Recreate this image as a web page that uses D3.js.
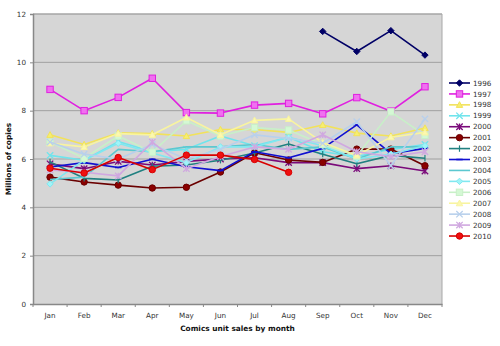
<!DOCTYPE html>
<html><head><meta charset="utf-8">
<script src="https://cdn.jsdelivr.net/npm/d3@7"></script>
<style>body{margin:0;background:#fff}svg{display:block}text{font-family:"DejaVu Sans",Verdana,sans-serif}</style>
</head><body>
<script>
const months = ["Jan","Feb","Mar","Apr","May","Jun","Jul","Aug","Sep","Oct","Nov","Dec"];
const yTicks = [0,2,4,6,8,10,12];
const years = ["1996","1997","1998","1999","2000","2001","2002","2003","2004","2005","2006","2007","2008","2009","2010"];
const s1996 = [null,null,null,null,null,null,null,null,11.28,10.45,11.31,10.3];
const s1997 = [8.88,8.0,8.55,9.34,7.92,7.9,8.23,8.3,7.87,8.54,7.98,8.99];
const s1998 = [7.0,6.6,7.08,7.05,6.95,7.22,7.22,7.1,7.41,7.07,6.95,7.28];
const s1999 = [6.15,5.95,6.72,6.3,6.4,6.95,6.55,6.9,6.3,6.1,6.4,6.6];
const s2000 = [5.8,5.6,5.9,5.75,5.9,6.0,6.05,5.85,5.85,5.6,5.72,5.5];
const s2001 = [5.25,5.05,4.92,4.8,4.83,5.46,6.26,5.96,5.86,6.41,6.41,5.72];
const s2002 = [5.88,5.2,5.13,5.7,5.75,5.95,6.25,6.62,6.2,5.8,6.15,6.03];
const s2003 = [5.67,5.85,5.65,5.99,5.68,5.52,6.3,6.05,6.44,7.41,6.22,6.44];
const s2004 = [5.15,5.25,6.4,6.3,6.5,6.5,6.6,6.4,6.5,6.0,6.5,6.5];
const s2005 = [4.97,5.95,6.65,6.25,5.85,6.5,6.5,6.9,6.55,6.0,6.2,6.55];
const s2006 = [6.7,6.03,6.95,6.28,7.58,6.95,7.3,7.2,6.6,6.12,7.95,6.98];
const s2007 = [6.65,6.5,7.05,7.0,7.72,7.0,7.6,7.66,6.68,6.15,6.9,7.1];
const s2008 = [6.7,6.2,6.0,6.6,6.0,6.4,7.0,6.85,6.65,7.54,5.72,7.66];
const s2009 = [5.55,5.45,5.3,6.7,5.6,6.1,6.5,6.4,7.0,6.3,6.1,6.3];
const s2010 = [5.62,5.42,6.06,5.56,6.16,6.16,5.98,5.45,null,null,null,null];
const seriesValues = [s1996,s1997,s1998,s1999,s2000,s2001,s2002,s2003,s2004,s2005,s2006,s2007,s2008,s2009,s2010];
const styles = [
  {c:"#000066",f:"#000066",m:"diamond"},
  {c:"#e020e0",f:"#f070f0",m:"square"},
  {c:"#f2e25a",f:"#f6ee70",m:"triangle"},
  {c:"#70e4ec",f:"#90f0f4",m:"x"},
  {c:"#7a0a7a",f:"#7a0a7a",m:"star"},
  {c:"#6a0000",f:"#8a0000",m:"circle"},
  {c:"#208080",f:"#208080",m:"plus"},
  {c:"#1010d0",f:"#1010d0",m:"dash"},
  {c:"#5cc8d0",f:"#5cc8d0",m:"none"},
  {c:"#80e8f0",f:"#a0f4f8",m:"diamond"},
  {c:"#c8f0c8",f:"#d4f8d4",m:"square"},
  {c:"#f8f4a0",f:"#fcf8b0",m:"triangle"},
  {c:"#b8d0ec",f:"#b8d0ec",m:"x"},
  {c:"#d0a8e0",f:"#d0a8e0",m:"star"},
  {c:"#d80000",f:"#ee1010",m:"circle"}
];

const W=500,H=346;
const L=33,R=442,T=14,B=304;
const svg=d3.select("body").append("svg").attr("width",W).attr("height",H);
const x=d3.scaleBand().domain(months).range([L,R]);
const y=d3.scaleLinear().domain([0,12]).range([B,T]);

svg.append("rect").attr("x",L).attr("y",T).attr("width",R-L).attr("height",B-T).attr("fill","#d6d6d6");
svg.append("g").selectAll("line").data(yTicks.filter(d=>d>0)).join("line")
  .attr("x1",L).attr("x2",R).attr("y1",d=>y(d)).attr("y2",d=>y(d))
  .attr("stroke","#a0a0a0").attr("stroke-width",1);
svg.append("path").attr("d",`M${L},${T}H${R}V${B}`).attr("fill","none").attr("stroke","#a8a8a8");

const ya=svg.append("g").attr("transform",`translate(${L},0)`)
  .call(d3.axisLeft(y).tickValues(yTicks).tickSize(3).tickPadding(4));
ya.select(".domain").attr("stroke","#888").attr("stroke-width",1.5);
ya.selectAll(".tick line").attr("stroke","#888");
ya.selectAll("text").attr("font-size",7.2).attr("fill","#333").attr("font-family","DejaVu Sans");

const xa=svg.append("g").attr("transform",`translate(0,${B})`)
  .call(d3.axisBottom(x).tickSize(0).tickPadding(9));
xa.select(".domain").attr("stroke","#888").attr("stroke-width",1.5);
xa.selectAll("text").attr("font-size",7.2).attr("fill","#333").attr("font-family","DejaVu Sans");
xa.selectAll(".bnd").data(months).join("line").attr("class","bnd")
  .attr("x1",d=>x(d)).attr("x2",d=>x(d)).attr("y1",0).attr("y2",3).attr("stroke","#888");
xa.append("line").attr("x1",R).attr("x2",R).attr("y1",0).attr("y2",3).attr("stroke","#888");

svg.append("text").attr("x",(L+R)/2).attr("y",331).attr("text-anchor","middle")
  .attr("font-size",7.4).attr("font-weight","bold").attr("fill","#111").text("Comics unit sales by month");
svg.append("text").attr("transform",`translate(11,${(T+B)/2}) rotate(-90)`).attr("text-anchor","middle")
  .attr("font-size",7.4).attr("font-weight","bold").attr("fill","#111").text("Millions of copies");

function marker(g,type,st,cx,cy){
  const s=3.2;
  if(type==="none")return;
  if(type==="diamond"){g.append("path").attr("d",`M${cx},${cy-s}L${cx+s},${cy}L${cx},${cy+s}L${cx-s},${cy}Z`).attr("fill",st.f).attr("stroke",st.c);}
  else if(type==="square"){g.append("rect").attr("x",cx-s).attr("y",cy-s).attr("width",2*s).attr("height",2*s).attr("fill",st.f).attr("stroke",st.c);}
  else if(type==="triangle"){g.append("path").attr("d",`M${cx},${cy-s}L${cx+s},${cy+s*0.8}L${cx-s},${cy+s*0.8}Z`).attr("fill",st.f).attr("stroke",st.c);}
  else if(type==="circle"){g.append("circle").attr("cx",cx).attr("cy",cy).attr("r",s).attr("fill",st.f).attr("stroke",st.c);}
  else if(type==="x"){g.append("path").attr("d",`M${cx-s},${cy-s}L${cx+s},${cy+s}M${cx-s},${cy+s}L${cx+s},${cy-s}`).attr("stroke",st.c).attr("stroke-width",1.3);}
  else if(type==="star"){g.append("path").attr("d",`M${cx-s},${cy-s}L${cx+s},${cy+s}M${cx-s},${cy+s}L${cx+s},${cy-s}M${cx},${cy-s}V${cy+s}`).attr("stroke",st.c).attr("stroke-width",1.3);}
  else if(type==="plus"){g.append("path").attr("d",`M${cx},${cy-s}V${cy+s}`).attr("stroke",st.c).attr("stroke-width",1.2);}
  else if(type==="dash"){g.append("path").attr("d",`M${cx-s},${cy}H${cx+s}`).attr("stroke",st.c).attr("stroke-width",1.6);}
}

const line=d3.line().defined(d=>d.v!=null).x(d=>x(d.m)+x.bandwidth()/2).y(d=>y(d.v));
const plot=svg.append("g");
seriesValues.forEach((vals,i)=>{
  const st=styles[i];
  const pts=vals.map((v,j)=>({m:months[j],v}));
  const g=plot.append("g");
  g.append("path").datum(pts).attr("d",line).attr("fill","none").attr("stroke",st.c).attr("stroke-width",1.6).attr("stroke-linejoin","round");
  pts.filter(p=>p.v!=null).forEach(p=>marker(g,st.m,st,x(p.m)+x.bandwidth()/2,y(p.v)));
});

const lg=svg.append("g");
years.forEach((yr,i)=>{
  const st=styles[i];
  const cy=83+i*10.93;
  const g=lg.append("g");
  g.append("line").attr("x1",449).attr("x2",470).attr("y1",cy).attr("y2",cy).attr("stroke",st.c).attr("stroke-width",1.6);
  marker(g,st.m,st,459.5,cy);
  g.append("text").attr("x",473).attr("y",cy+2.6).attr("font-size",7.2).attr("fill","#333").text(yr);
});
</script>
</body></html>
